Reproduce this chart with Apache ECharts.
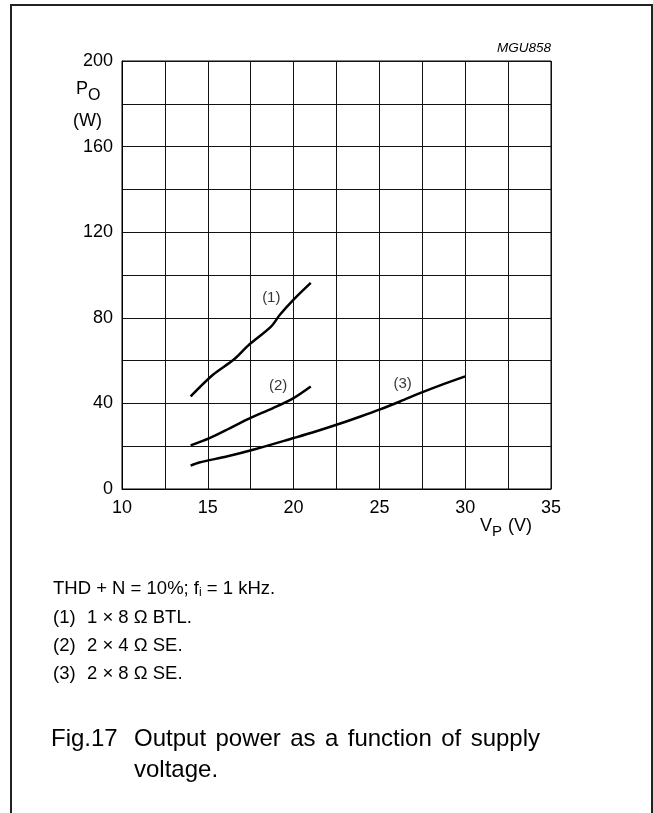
<!DOCTYPE html>
<html><head><meta charset="utf-8">
<script src="https://cdn.jsdelivr.net/npm/echarts@6/dist/echarts.min.js"></script>
<style>html,body{margin:0;padding:0;background:#fff;}#c{width:653px;height:813px;}</style>
</head><body><div id="c"></div>
<script>
const vp1 = [14, 15.3, 16.5, 17.35, 18.7, 19.2, 20, 21];
const po1 = [43.3, 53.4, 60.4, 67, 76, 81.4, 88.5, 96.3];
const vp2 = [14, 15.1, 16.3, 17.4, 18.8, 20, 21];
const po2 = [20.4, 23.8, 28.5, 32.9, 37.8, 42.5, 47.9];
const vp3 = [14, 14.5, 16.1, 17.8, 20, 21.1, 22.5, 23.9, 25, 26.2, 27.4, 28.5, 30];
const po3 = [10.9, 12.4, 15.2, 18.7, 23.8, 26.4, 30, 33.9, 37.1, 40.9, 44.9, 48.3, 52.6];
const curveLabels = ['(1)', '(2)', '(3)'];
const labelVp = [18.7, 19.1, 26.35];
const labelPo = [89.5, 48.3, 49];
const xTicks = [10, 15, 20, 25, 30, 35];
const yTicks = [0, 40, 80, 120, 160, 200];
const noteHead = 'THD + N = 10%; f{sub|i} = 1 kHz.';
const noteKeys = ['(1)', '(2)', '(3)'];
const noteTexts = ['1 × 8 Ω BTL.', '2 × 4 Ω SE.', '2 × 8 Ω SE.'];
const figLabel = 'Fig.17';
const captionWords = ['Output', 'power', 'as', 'a', 'function', 'of', 'supply'];
const captionLine2 = 'voltage.';

const zip = (a, b) => a.map((v, i) => [v, b[i]]);
const FONT = '"Liberation Sans", Arial, sans-serif';
const chart = echarts.init(document.getElementById('c'), null, {renderer: 'canvas'});
const lineSeries = (x, y) => ({
  type: 'line', data: zip(x, y), showSymbol: false, smooth: 0.3,
  lineStyle: {color: '#000', width: 2.5}, silent: true
});

// justified caption line
const CAP_SIZE = 24;
const ctx = document.createElement('canvas').getContext('2d');
ctx.font = CAP_SIZE + 'px ' + FONT;
const capLeft = 134, capRight = 540;
const widths = captionWords.map(w => ctx.measureText(w).width);
const gap = (capRight - capLeft - widths.reduce((a, b) => a + b, 0)) / (captionWords.length - 1);
const capGraphics = [];
let cx = capLeft;
captionWords.forEach((w, i) => {
  capGraphics.push({type: 'text', x: cx, y: 727, style: {text: w, fontSize: CAP_SIZE, fontFamily: FONT, fill: '#000'}});
  cx += widths[i] + gap;
});

const NOTE_SIZE = 18.5;
const noteGraphics = [
  {type: 'text', x: 53, y: 579, style: {text: noteHead, fontSize: NOTE_SIZE, fontFamily: FONT, fill: '#000',
    rich: {sub: {fontSize: 12, fontFamily: FONT, padding: [8, 0, 0, 0], fill: '#000'}}}}
];
noteKeys.forEach((k, i) => {
  const y = 608 + i * 28.3;
  noteGraphics.push({type: 'text', x: 53, y: y, style: {text: k, fontSize: NOTE_SIZE, fontFamily: FONT, fill: '#000'}});
  noteGraphics.push({type: 'text', x: 87, y: y, style: {text: noteTexts[i], fontSize: NOTE_SIZE, fontFamily: FONT, fill: '#000'}});
});

chart.setOption({
  animation: false,
  backgroundColor: '#fff',
  grid: {left: 122, right: 102, top: 61, bottom: 324, show: true, borderColor: '#000', borderWidth: 1},
  xAxis: {
    type: 'value', min: 10, max: 35, interval: 2.5,
    axisLine: {show: true, lineStyle: {color: '#000', width: 1}},
    axisTick: {show: false},
    splitLine: {show: true, lineStyle: {color: '#111', width: 1}},
    axisLabel: {
      color: '#000', fontSize: 18, fontFamily: FONT, margin: 10,
      formatter: v => xTicks.includes(v) ? String(v) : ''
    }
  },
  yAxis: {
    type: 'value', min: 0, max: 200, interval: 20,
    axisLine: {show: true, lineStyle: {color: '#000', width: 1}},
    axisTick: {show: false},
    splitLine: {show: true, lineStyle: {color: '#111', width: 1}},
    axisLabel: {
      color: '#000', fontSize: 18, fontFamily: FONT, margin: 9,
      formatter: v => yTicks.includes(v) ? String(v) : ''
    }
  },
  series: [
    lineSeries(vp1, po1), lineSeries(vp2, po2), lineSeries(vp3, po3),
    {
      type: 'scatter', symbolSize: 0, silent: true,
      data: labelVp.map((v, i) => ({value: [v, labelPo[i]], label: {show: true, formatter: curveLabels[i], position: 'inside', color: '#000', fontSize: 15, fontFamily: FONT}}))
    }
  ],
  graphic: [
    {type: 'rect', shape: {x: 11, y: 5, width: 641, height: 830}, style: {fill: 'none', stroke: '#222', lineWidth: 2}, silent: true},
    {type: 'text', x: 551, y: 41, style: {text: 'MGU858', align: 'right', fontSize: 13.5, fontStyle: 'italic', fontFamily: FONT, fill: '#000'}},
    {type: 'text', x: 76, y: 80, style: {text: 'P', fontSize: 18, fontFamily: FONT, fill: '#000'}},
    {type: 'text', x: 88, y: 88, style: {text: 'O', fontSize: 16, fontFamily: FONT, fill: '#000'}},
    {type: 'text', x: 73, y: 112, style: {text: '(W)', fontSize: 18, fontFamily: FONT, fill: '#000'}},
    {type: 'text', x: 480, y: 517, style: {text: 'V', fontSize: 18, fontFamily: FONT, fill: '#000'}},
    {type: 'text', x: 492, y: 524, style: {text: 'P', fontSize: 15, fontFamily: FONT, fill: '#000'}},
    {type: 'text', x: 508, y: 517, style: {text: '(V)', fontSize: 18, fontFamily: FONT, fill: '#000'}},
    ...noteGraphics,
    {type: 'text', x: 51, y: 727, style: {text: figLabel, fontSize: CAP_SIZE, fontFamily: FONT, fill: '#000'}},
    ...capGraphics,
    {type: 'text', x: capLeft, y: 758, style: {text: captionLine2, fontSize: CAP_SIZE, fontFamily: FONT, fill: '#000'}}
  ]
});
</script></body></html>
